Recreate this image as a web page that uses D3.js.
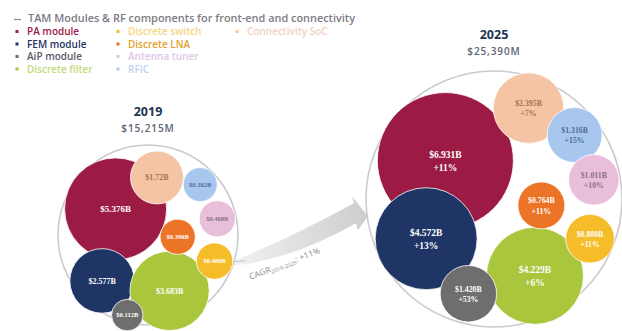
<!DOCTYPE html>
<html><head><meta charset="utf-8">
<script src="https://cdn.jsdelivr.net/npm/d3@7"></script>
<style>
html,body{margin:0;padding:0;background:#fff;}
svg{display:block;}
</style></head>
<body>
<svg id="chart" width="622" height="331"></svg>
<script>
// ---------------- DATA ----------------
const segments = ["PA module","FEM module","AiP module","Discrete filter","Discrete switch","Discrete LNA","Antenna tuner","RFIC","Connectivity SoC"];
const years = ["2019","2025"];
const totalLabels = ["$15,215M","$25,390M"];
const totalValues = [15.215, 25.390];
const values2019 = [5.376, 2.577, 0.112, 3.683, 0.480, 0.390, 0.468, 0.302, 1.720];
const labels2019 = ["$5.376B","$2.577B","$0.112B","$3.683B","$0.480B","$0.390B","$0.468B","$0.302B","$1.72B"];
const values2025 = [6.931, 4.572, 1.420, 4.229, 0.880, 0.764, 1.011, 1.316, 2.395];
const labels2025 = ["$6.931B","$4.572B","$1.420B","$4.229B","$0.880B","$0.764B","$1.011B","$1.316B","$2.395B"];
const growth2025 = ["+11%","+13%","+53%","+6%","+11%","+11%","+10%","+15%","+7%"];
const legendTitle = "TAM Modules & RF components for front-end and connectivity";
const cagrText = ["CAGR", "2019-2025", ": +11%"];

// ---------------- STYLE / LAYOUT ----------------
const colors = {"PA module":"#9b1b44","FEM module":"#1f3566","AiP module":"#6e6e6e","Discrete filter":"#a9c63d",
  "Discrete switch":"#f6bd2a","Discrete LNA":"#ec7427","Antenna tuner":"#e9bedb","RFIC":"#a8c7ee","Connectivity SoC":"#f5c4a5"};
const legendTextColors = {"PA module":"#9b1b44","FEM module":"#1f3566","AiP module":"#5a5a6a","Discrete filter":"#c2d97a",
  "Discrete switch":"#f5d580","Discrete LNA":"#e2a12c","Antenna tuner":"#dcc6ea","RFIC":"#bcd3f2","Connectivity SoC":"#f2d2bf"};
const labelColors = {"Antenna tuner":"#8a6f88","RFIC":"#4f6c97","Connectivity SoC":"#a8714f"};
// relative anchor of each bubble inside its panel (fraction of panel radius)
const anchors = {
  "2019": {"PA module":[-0.36,-0.29],"FEM module":[-0.51,0.51],"AiP module":[-0.23,0.89],"Discrete filter":[0.24,0.62],
    "Discrete switch":[0.74,0.29],"Discrete LNA":[0.33,0.02],"Antenna tuner":[0.77,-0.18],"RFIC":[0.58,-0.56],"Connectivity SoC":[0.1,-0.64]},
  "2025": {"PA module":[-0.38,-0.3],"FEM module":[-0.53,0.31],"AiP module":[-0.2,0.74],"Discrete filter":[0.32,0.6],
    "Discrete switch":[0.75,0.31],"Discrete LNA":[0.37,0.05],"Antenna tuner":[0.78,-0.15],"RFIC":[0.63,-0.5],"Connectivity SoC":[0.27,-0.71]}
};
const drawOrder = ["PA module","FEM module","Discrete filter","Connectivity SoC","RFIC","Antenna tuner","Discrete LNA","Discrete switch","AiP module"];

const svg = d3.select("#chart");
const defs = svg.append("defs");

// ---------------- LEGEND ----------------
const lg = svg.append("g").attr("font-family","'Open Sans', sans-serif").attr("font-weight",600);
lg.append("line").attr("x1",14).attr("x2",21).attr("y1",19.5).attr("y2",19.5).attr("stroke","#888").attr("stroke-width",1.2);
lg.append("text").attr("x",28).attr("y",22).attr("font-size",10).attr("fill","#7b7b85")
  .attr("textLength",327).attr("lengthAdjust","spacingAndGlyphs").text(legendTitle);
const legendCols = [[0,1,2,3],[4,5,6,7],[8]];
const colX = [17, 118, 237];
legendCols.forEach((col, ci) => {
  col.forEach((si, ri) => {
    const s = segments[si];
    const y = 35 + ri * 12.5;
    lg.append("rect").attr("x", colX[ci]-1.5).attr("y", y-5).attr("width",3).attr("height",3).attr("fill", colors[s]);
    lg.append("text").attr("x", colX[ci] + 10).attr("y", y).attr("font-size",10).attr("fill", legendTextColors[s]).text(s);
  });
});

// ---------------- PANELS ----------------
const panelR = d3.scaleLinear().domain(d3.extent(totalValues)).range([90, 128]);
const panelCenters = [[148, 235], [494, 199]];
const bubbleScales = [
  d3.scaleLinear().domain([0, d3.max(values2019)]).range([15, 51]),
  d3.scaleLinear().domain([0, d3.max(values2025)]).range([18, 68])
];
const valueSets = [values2019, values2025];
const labelSets = [labels2019, labels2025];

// ---------------- ARROW ----------------
(function(){
  const [c1x,c1y] = panelCenters[0], R1 = panelR(totalValues[0]);
  const [c2x,c2y] = panelCenters[1], R2 = panelR(totalValues[1]);
  const a1 = 18*Math.PI/180, a2 = 170*Math.PI/180;
  const sx = c1x + R1*Math.cos(a1), sy = c1y + R1*Math.sin(a1);
  const ex = c2x + R2*Math.cos(a2), ey = c2y + R2*Math.sin(a2);
  const grad = defs.append("linearGradient").attr("id","ag").attr("x1","0").attr("x2","1").attr("y1","0").attr("y2","0");
  grad.append("stop").attr("offset","0").attr("stop-color","#f2f2f2");
  grad.append("stop").attr("offset","1").attr("stop-color","#cdcdcd");
  const p = d3.path();
  p.moveTo(sx, sy-2);
  p.quadraticCurveTo(sx+55, sy-24, ex-14, ey-18);
  p.lineTo(ex-16, ey-25);
  p.lineTo(ex, ey-5);
  p.lineTo(ex-10, ey+9);
  p.lineTo(ex-12, ey+2);
  p.quadraticCurveTo(sx+60, sy-4, sx, sy+3);
  p.closePath();
  svg.append("path").attr("d", p.toString()).attr("fill","url(#ag)");
  const t = svg.append("text").attr("font-family","'Open Sans', sans-serif").attr("fill","#8d8d8d").attr("font-size",8.5)
    .attr("transform",`translate(${sx+17},${sy+17}) rotate(-21)`);
  t.append("tspan").text(cagrText[0]);
  t.append("tspan").attr("font-size",5.5).attr("dy",2).text(cagrText[1]);
  t.append("tspan").attr("dy",-2).text(cagrText[2]);
  svg.append("line").attr("x1",sx).attr("x2",sx+12).attr("y1",sy-1).attr("y2",sy-2).attr("stroke","#b8cbe6").attr("stroke-width",1);
})();

years.forEach((yr, pi) => {
  const [cx, cy] = panelCenters[pi];
  const R = panelR(totalValues[pi]);
  const g = svg.append("g");
  g.append("circle").attr("cx",cx).attr("cy",cy).attr("r",R).attr("fill","#fff").attr("stroke","#cbcbcb").attr("stroke-width",1.6);
  g.append("text").attr("x",cx).attr("y",cy-R-(pi?32:29)).attr("text-anchor","middle").attr("font-family","'Open Sans', sans-serif")
    .attr("font-weight",700).attr("font-size",12.5).attr("fill","#223355").text(yr);
  g.append("text").attr("x",cx).attr("y",cy-R-(pi?16:13)).attr("text-anchor","middle").attr("font-family","'Open Sans', sans-serif")
    .attr("font-weight",600).attr("font-size",10).attr("letter-spacing",0.9).attr("fill","#5d6475").text(totalLabels[pi]);
  const rs = bubbleScales[pi];
  const nodes = drawOrder.map(s => {
    const i = segments.indexOf(s);
    const a = anchors[yr][s];
    return {s, i, x: cx + a[0]*R, y: cy + a[1]*R, r: rs(valueSets[pi][i])};
  });
  const bub = g.selectAll("g.b").data(nodes).join("g").attr("class","b");
  bub.append("circle").attr("cx",d=>d.x).attr("cy",d=>d.y).attr("r",d=>d.r).attr("fill",d=>colors[d.s])
    .attr("stroke","#fff").attr("stroke-width",0.8);
  bub.each(function(d){
    const tg = d3.select(this);
    const fs = pi ? (d.r > 40 ? 9.5 : 7.8) : (d.r > 40 ? 9 : (d.r > 24 ? 8 : 6.5));
    const col = labelColors[d.s] || "#ffffff";
    const t = tg.append("text").attr("text-anchor","middle").attr("font-family","'Liberation Serif', serif")
      .attr("font-weight",700).attr("font-size",fs).attr("fill",col);
    if (pi === 0) {
      t.attr("x",d.x).attr("y",d.y + fs*0.35).text(labelSets[pi][d.i]);
    } else {
      t.append("tspan").attr("x",d.x).attr("y",d.y - fs*0.25).text(labelSets[pi][d.i]);
      t.append("tspan").attr("x",d.x).attr("y",d.y + fs*1.05).text(growth2025[d.i]);
    }
  });
});
</script>
</body></html>
